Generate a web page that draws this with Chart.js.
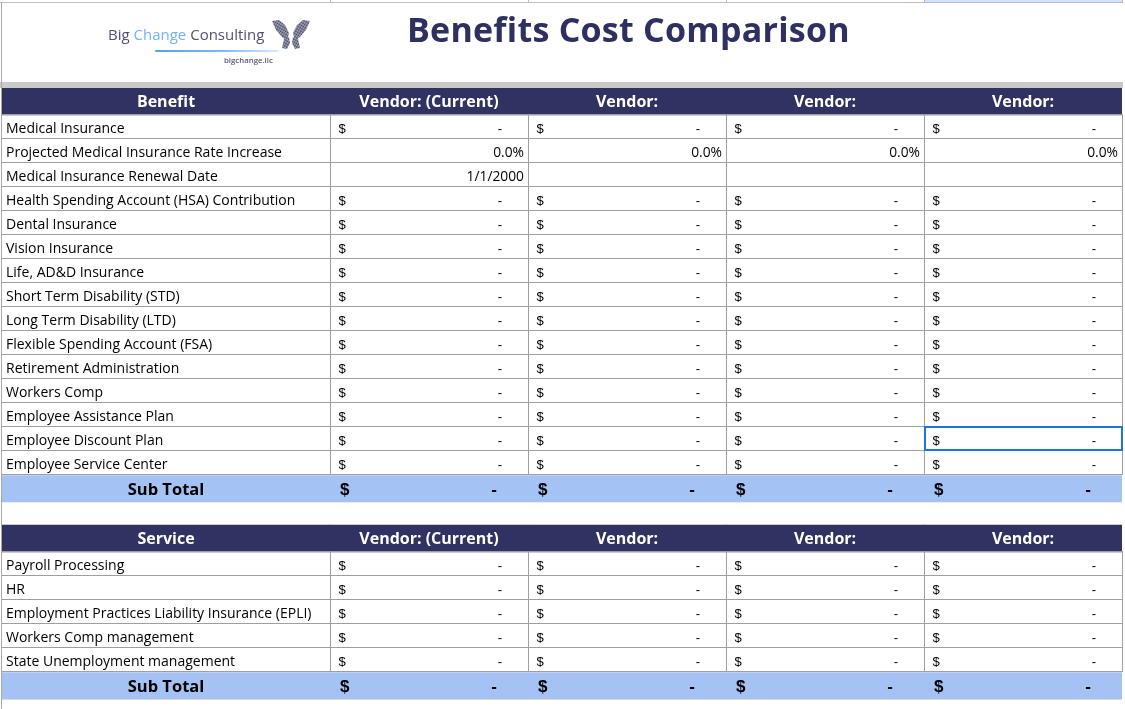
<!DOCTYPE html>
<html><head><meta charset="utf-8">
<script src="https://cdn.jsdelivr.net/npm/chart.js@4.4.1/dist/chart.umd.min.js"></script>
<style>
html,body{margin:0;padding:0;background:#fff;}
#wrap{position:relative;width:1125px;height:709px;overflow:hidden;background:#fff;}
#c{position:absolute;left:0;top:0;}
.t{position:absolute;white-space:nowrap;line-height:1;font-family:"Open Sans",sans-serif;}
</style></head>
<body>
<div id="wrap">
<canvas id="c" width="1125" height="709"></canvas>
<div class="t" style="left:108px;top:27.4px;font-size:15px;color:#4f5173;">Big <span style="color:#70b3f6">Change</span> Consulting</div>
<div style="position:absolute;left:155px;top:49.5px;width:124px;height:2.5px;border-radius:2px;background:linear-gradient(to right,#55a0f2,#7db9f6 55%,#dcecfc)"></div>
<div class="t" style="left:224px;top:56.8px;font-size:7.8px;font-weight:600;color:#55577a;">bigchange.llc</div>
<svg style="position:absolute;left:268px;top:17px" width="46" height="36" viewBox="268 17 46 36">
<defs><pattern id="dots" width="2.2" height="2.6" patternUnits="userSpaceOnUse" patternTransform="rotate(30)"><rect width="2.2" height="2.6" fill="#b9bbcb"/><ellipse cx="1.1" cy="1.3" rx="0.85" ry="1.05" fill="#3f4260"/></pattern></defs>
<polygon points="272,21 279,20 285,25 289,33 287,41 282,37 276,30" fill="url(#dots)"/>
<polygon points="310,21 303,20 297,25 293,33 295,41 300,37 306,30" fill="url(#dots)"/>
<polygon points="284,39 289,37 290,43 287,49 282,48" fill="url(#dots)"/>
<polygon points="298,39 293,37 292,43 295,49 300,48" fill="url(#dots)"/>
</svg>
<div class="t" style="left:407px;top:11.5px;font-size:34px;font-weight:700;letter-spacing:0.25px;color:#2e3061;">Benefits Cost Comparison</div>
</div>
<script>
// ---------------- data ----------------
const tableHeadings = ["Benefit", "Service"];
const vendorLabels = ["Vendor: (Current)", "Vendor:", "Vendor:", "Vendor:"];
const subtotalLabel = "Sub Total";
const benefitNames = [
  "Medical Insurance",
  "Projected Medical Insurance Rate Increase",
  "Medical Insurance Renewal Date",
  "Health Spending Account (HSA) Contribution",
  "Dental Insurance",
  "Vision Insurance",
  "Life, AD&D Insurance",
  "Short Term Disability (STD)",
  "Long Term Disability (LTD)",
  "Flexible Spending Account (FSA)",
  "Retirement Administration",
  "Workers Comp",
  "Employee Assistance Plan",
  "Employee Discount Plan",
  "Employee Service Center"
];
const benefitFormats = ["usd","pct","date","usd","usd","usd","usd","usd","usd","usd","usd","usd","usd","usd","usd"];
const serviceNames = [
  "Payroll Processing",
  "HR",
  "Employment Practices Liability Insurance (EPLI)",
  "Workers Comp management",
  "State Unemployment management"
];
const vendor1Benefits = [0, 0, "1/1/2000", 0, 0, 0, 0, 0, 0, 0, 0, 0, 0, 0, 0];
const vendor2Benefits = [0, 0, null, 0, 0, 0, 0, 0, 0, 0, 0, 0, 0, 0, 0];
const vendor3Benefits = [0, 0, null, 0, 0, 0, 0, 0, 0, 0, 0, 0, 0, 0, 0];
const vendor4Benefits = [0, 0, null, 0, 0, 0, 0, 0, 0, 0, 0, 0, 0, 0, 0];
const vendor1Services = [0, 0, 0, 0, 0];
const vendor2Services = [0, 0, 0, 0, 0];
const vendor3Services = [0, 0, 0, 0, 0];
const vendor4Services = [0, 0, 0, 0, 0];

// ---------------- layout / style ----------------
const ROW_HEIGHT = {header: 27, data: 24, subtotal: 27, gap: 23};
const COL_WIDTH = [328, 198, 198, 198, 198];
const NAVY = "#303261", LIGHT = "#a4c2f4", GRID = "#9f9f9f";
const SELECTED = {label: "Employee Discount Plan", col: 4};

// ---------------- build table model ----------------
const benefitCols = [vendor1Benefits, vendor2Benefits, vendor3Benefits, vendor4Benefits];
const serviceCols = [vendor1Services, vendor2Services, vendor3Services, vendor4Services];
function sumUsd(arr, fmts) { return arr.reduce((s, v, i) => s + ((fmts[i] === "usd" && typeof v === "number") ? v : 0), 0); }
const rows = [];
rows.push({kind: "header", label: tableHeadings[0]});
benefitNames.forEach((n, i) => rows.push({kind: "data", label: n, fmt: benefitFormats[i], vals: benefitCols.map(a => a[i])}));
rows.push({kind: "subtotal", label: subtotalLabel, vals: benefitCols.map(a => sumUsd(a, benefitFormats))});
rows.push({kind: "gap", label: ""});
rows.push({kind: "header", label: tableHeadings[1]});
const svcFmts = serviceNames.map(() => "usd");
serviceNames.forEach((n, i) => rows.push({kind: "data", label: n, fmt: "usd", vals: serviceCols.map(a => a[i])}));
rows.push({kind: "subtotal", label: subtotalLabel, vals: serviceCols.map(a => sumUsd(a, svcFmts))});

let acc = 0;
rows.forEach(r => { r.h = ROW_HEIGHT[r.kind]; r.center = acc + r.h / 2; acc += r.h; });
const totalH = acc;
const colStart = [], colEnd = [];
let cx = 0;
COL_WIDTH.forEach((w, i) => { colStart.push(cx); cx += w; colEnd.push(cx); });
const totalW = cx;

const kinds = ["header", "data", "subtotal"];
const colors = {header: NAVY, data: "#ffffff", subtotal: LIGHT};
const datasets = kinds.map(k => {
  const data = [];
  rows.forEach((r, ri) => {
    if (r.kind !== k) return;
    COL_WIDTH.forEach((w, c) => data.push({x: [colStart[c], colEnd[c]], y: r.center, row: ri, col: c}));
  });
  return {label: k, data, backgroundColor: colors[k], barThickness: ROW_HEIGHT[k], grouped: false, borderWidth: 0, borderSkipped: false};
});

function fmtUsd(v) {
  if (v === 0) return "-";
  return v.toLocaleString("en-US", {minimumFractionDigits: 2, maximumFractionDigits: 2});
}

const tablePlugin = {
  id: "tablePlugin",
  beforeDraw(chart) {
    const ctx = chart.ctx;
    ctx.save();
    ctx.fillStyle = "#fff"; ctx.fillRect(0, 0, chart.width, chart.height);
    ctx.fillStyle = "#d3e3fd"; ctx.fillRect(925, 0, 197, 2);
    ctx.fillStyle = "#bdbdbd";
    ctx.fillRect(0, 2, 1123, 1);
    [330, 528, 726, 924, 1122].forEach(x => ctx.fillRect(x, 0, 1, 2));
    ctx.fillStyle = "#c9c9c9"; ctx.fillRect(0, 82, 1123, 6);
    ctx.restore();
  },
  afterDatasetsDraw(chart) {
    const ctx = chart.ctx;
    const cells = [];
    chart.data.datasets.forEach((ds, di) => {
      const meta = chart.getDatasetMeta(di);
      meta.data.forEach((el, i) => {
        const raw = ds.data[i];
        const p = el.getProps(["x", "y", "base", "height"], true);
        cells.push({row: rows[raw.row], col: raw.col,
          left: Math.min(p.x, p.base), right: Math.max(p.x, p.base),
          top: p.y - p.height / 2, bottom: p.y + p.height / 2});
      });
    });
    ctx.save();
    // grid lines for data cells
    ctx.strokeStyle = GRID; ctx.lineWidth = 1;
    ctx.beginPath();
    cells.forEach(c => {
      if (c.row.kind !== "data") return;
      const t = Math.round(c.top) - 0.5, b = Math.round(c.bottom) - 0.5;
      ctx.moveTo(c.left, t); ctx.lineTo(c.right + 1, t);
      ctx.moveTo(c.left, b); ctx.lineTo(c.right + 1, b);
      if (c.col > 0) { ctx.moveTo(Math.round(c.left) + 0.5, t); ctx.lineTo(Math.round(c.left) + 0.5, b); }
      ctx.moveTo(Math.round(c.right) + 0.5, t); ctx.lineTo(Math.round(c.right) + 0.5, b);
    });
    ctx.stroke();
    // left border
    ctx.fillStyle = "#a8a8a8"; ctx.fillRect(1, 2, 1, 707);
    // faint line under last subtotal
    ctx.fillStyle = "#dadada"; ctx.fillRect(2, Math.round(chart.chartArea.bottom), 1120, 1);
    // texts
    ctx.textBaseline = "alphabetic";
    function txt(s, x, y, font, color, align) { ctx.font = font; ctx.fillStyle = color; ctx.textAlign = align; ctx.fillText(s, x, y); }
    cells.forEach(c => {
      const r = c.row;
      if (r.kind === "header") {
        const s = c.col === 0 ? r.label : vendorLabels[c.col - 1];
        txt(s, (c.left + c.right) / 2, c.bottom - 8, 'bold 16px "Open Sans"', "#ffffff", "center");
      } else if (r.kind === "subtotal") {
        if (c.col === 0) txt(r.label, (c.left + c.right) / 2, c.bottom - 7, 'bold 16.5px "Open Sans"', "#000", "center");
        else {
          txt("$", c.left + 10, c.bottom - 7, 'bold 17px "Liberation Sans"', "#000", "left");
          txt(fmtUsd(r.vals[c.col - 1]), c.right - 31, c.bottom - 7, 'bold 17px "Liberation Sans"', "#000", "right");
        }
      } else if (r.kind === "data") {
        const y = c.bottom - 6;
        if (c.col === 0) txt(r.label, c.left + 4, y, '14px "Open Sans"', "#000", "left");
        else {
          const v = r.vals[c.col - 1];
          if (v === null || v === undefined) return;
          if (r.fmt === "usd") {
            txt("$", c.left + 8.5, y, '13px "Liberation Sans"', "#000", "left");
            txt(fmtUsd(v), c.right - 26, y, '13px "Liberation Sans"', "#000", "right");
          } else if (r.fmt === "pct") {
            txt((v * 100).toFixed(1) + "%", c.right - 4, y, '13.8px "Open Sans"', "#000", "right");
          } else {
            txt(String(v), c.right - 4, y, '13.8px "Open Sans"', "#000", "right");
          }
        }
      }
    });
    // selected cell
    cells.forEach(c => {
      if (c.row.label === SELECTED.label && c.col === SELECTED.col) {
        ctx.strokeStyle = "#1a73e8"; ctx.lineWidth = 2;
        ctx.strokeRect(Math.round(c.left) + 1, Math.round(c.top) + 0, Math.round(c.right - c.left) - 1, Math.round(c.bottom - c.top) - 1);
      }
    });
    ctx.restore();
  }
};

function build() {
  new Chart(document.getElementById("c"), {
    type: "bar",
    data: {datasets},
    options: {
      indexAxis: "y",
      responsive: false,
      animation: false,
      devicePixelRatio: 1,
      layout: {autoPadding: false, padding: {left: 2, right: 1125 - 2 - totalW, top: 88, bottom: 709 - 88 - totalH}},
      scales: {
        x: {type: "linear", min: 0, max: totalW, offset: false, grace: 0, display: false},
        y: {type: "linear", min: 0, max: totalH, reverse: true, offset: false, grace: 0, display: false}
      },
      plugins: {legend: {display: false}, tooltip: {enabled: false}, title: {display: false}}
    },
    plugins: [tablePlugin]
  });
}
const fontList = ['14px "Open Sans"', 'bold 16px "Open Sans"', '13px "Liberation Sans"', 'bold 17px "Liberation Sans"'];
if (document.fonts && document.fonts.load) {
  Promise.all(fontList.map(f => document.fonts.load(f))).then(build, build);
} else build();
</script>
</body></html>
